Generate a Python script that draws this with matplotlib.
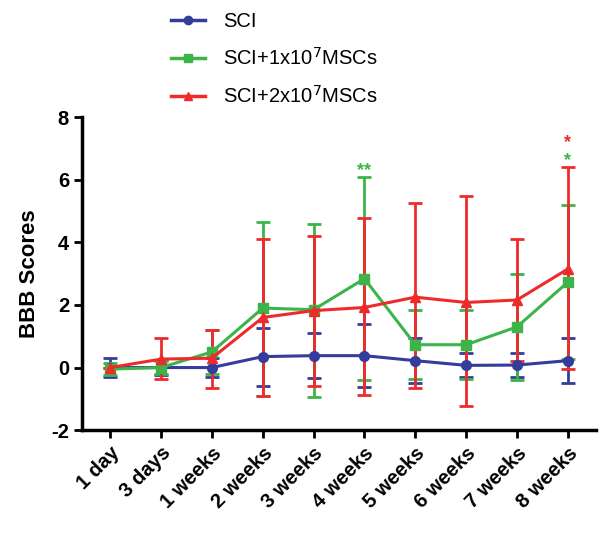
import matplotlib
matplotlib.use("Agg")
import matplotlib.pyplot as plt
from matplotlib.lines import Line2D

plt.rcParams['font.family'] = ['Liberation Sans', 'DejaVu Sans']
plt.rcParams['axes.unicode_minus'] = False

timepoints = ['1 day', '3 days', '1 weeks', '2 weeks', '3 weeks', '4 weeks',
              '5 weeks', '6 weeks', '7 weeks', '8 weeks']

# BBB scores (mean) and error bars (lower, upper)
sci_mean = [0.0, 0.0, 0.0, 0.35, 0.38, 0.38, 0.22, 0.07, 0.08, 0.22]
sci_lo = [0.3, 0.25, 0.3, 0.95, 0.72, 1.0, 0.72, 0.38, 0.38, 0.72]
sci_hi = [0.3, 0.25, 0.3, 0.92, 0.72, 1.0, 0.73, 0.4, 0.38, 0.74]

msc1_mean = [-0.05, 0.0, 0.5, 1.9, 1.85, 2.84, 0.73, 0.73, 1.3, 2.73]
msc1_lo = [0.2, 0.2, 0.7, 2.8, 2.8, 3.25, 1.1, 1.1, 1.7, 2.47]
msc1_hi = [0.2, 0.2, 0.7, 2.75, 2.75, 3.25, 1.1, 1.1, 1.7, 2.47]

msc2_mean = [0.0, 0.27, 0.3, 1.6, 1.82, 1.92, 2.25, 2.08, 2.16, 3.15]
msc2_lo = [0.0, 0.65, 0.95, 2.5, 2.4, 2.8, 2.9, 3.3, 1.95, 3.2]
msc2_hi = [0.0, 0.67, 0.9, 2.5, 2.4, 2.85, 3.0, 3.4, 1.95, 3.25]

blue = '#343c9c'
green = '#3cb44a'
red = '#ee2b2b'

fig = plt.figure(figsize=(6, 5.33), dpi=100)
ax = fig.add_axes([0.137, 0.193, 0.856, 0.587])

x = list(range(len(timepoints)))

series = [
    (sci_mean, sci_lo, sci_hi, blue, 'o', 'SCI'),
    (msc1_mean, msc1_lo, msc1_hi, green, 's', 'SCI+1x10$^7$MSCs'),
    (msc2_mean, msc2_lo, msc2_hi, red, '^', 'SCI+2x10$^7$MSCs'),
]

handles = []
for mean, lo, hi, col, mk, lab in series:
    ax.errorbar(x, mean, yerr=[lo, hi], color=col, marker=mk, markersize=7,
                linewidth=2.2, elinewidth=2, capsize=5, capthick=2)
    handles.append(Line2D([], [], color=col, marker=mk, markersize=6,
                          linewidth=2.5, label=lab))

# significance marks
ax.text(5, 6.3, '**', color=green, ha='center', va='center', fontsize=13, fontweight='bold')
ax.text(9, 6.6, '*', color=green, ha='center', va='center', fontsize=13, fontweight='bold')
ax.text(9, 7.2, '*', color=red, ha='center', va='center', fontsize=13, fontweight='bold')

ax.set_xlim(-0.55, 9.55)
ax.set_ylim(-2, 8)
ax.set_yticks([-2, 0, 2, 4, 6, 8])
ax.set_xticks(x)
ax.set_xticklabels(timepoints, rotation=45, ha='right', rotation_mode='anchor')

for lbl in ax.get_xticklabels() + ax.get_yticklabels():
    lbl.set_fontweight('bold')
    lbl.set_fontsize(14.5)

ax.set_ylabel('BBB Scores', fontsize=16, fontweight='bold', labelpad=8)

ax.spines['top'].set_visible(False)
ax.spines['right'].set_visible(False)
ax.spines['left'].set_linewidth(2.5)
ax.spines['bottom'].set_linewidth(2.5)
ax.tick_params(width=2, length=6)

fig.legend(handles=handles, loc='upper left', bbox_to_anchor=(0.265, 1.0),
           frameon=False, fontsize=14.5, handlelength=1.7, handletextpad=0.9,
           labelspacing=0.8, borderaxespad=0.2)

fig.savefig('out.png', dpi=100)
